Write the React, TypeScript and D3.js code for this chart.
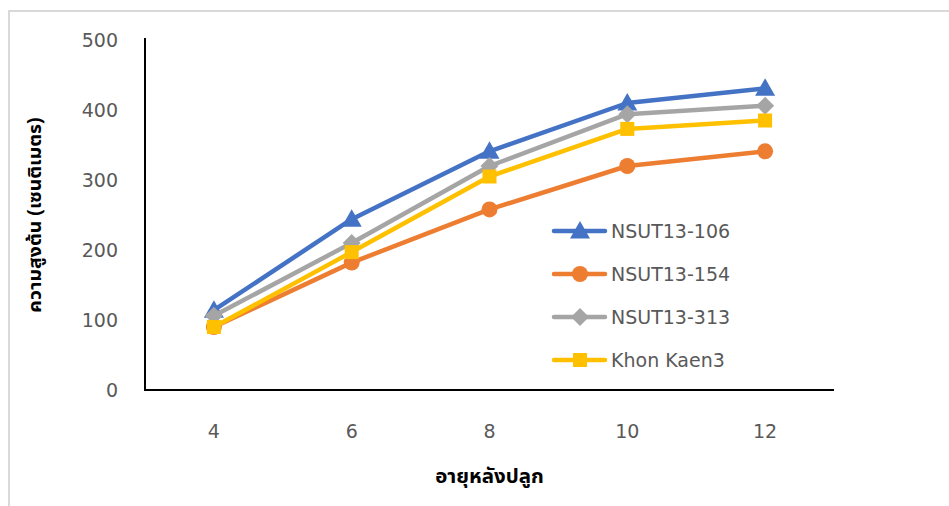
import React from "react";
import * as d3 from "d3";

const categories = [4, 6, 8, 10, 12];
const seriesNames = ["NSUT13-106", "NSUT13-154", "NSUT13-313", "Khon Kaen3"];
const nsut106 = [114, 244, 341, 410, 431];
const nsut154 = [90, 182, 258, 320, 341];
const nsut313 = [106, 210, 320, 394, 406];
const khonKaen3 = [90, 197, 305, 373, 385];
const yTicks = [0, 100, 200, 300, 400, 500];

const colors = ["#4472C4", "#ED7D31", "#A5A5A5", "#FFC000"];
const shapes = ["triangle", "circle", "diamond", "square"];

function Marker({ shape, x, y, color }: { shape: string; x: number; y: number; color: string }) {
  if (shape === "triangle") {
    const s = 10;
    return <path d={`M${x},${y - s} L${x + s},${y + s * 0.75} L${x - s},${y + s * 0.75} Z`} fill={color} />;
  }
  if (shape === "circle") return <circle cx={x} cy={y} r={8} fill={color} />;
  if (shape === "diamond") {
    const s = 9;
    return <path d={`M${x},${y - s} L${x + s},${y} L${x},${y + s} L${x - s},${y} Z`} fill={color} />;
  }
  return <rect x={x - 7} y={y - 7} width={14} height={14} fill={color} />;
}

export default function App() {
  const W = 949, H = 506;
  const left = 145, right = 834, top = 40, bottom = 390;
  const x = d3.scalePoint<number>().domain(categories).range([left, right]).padding(0.5);
  const y = d3.scaleLinear().domain([0, 500]).range([bottom, top]);
  const data = [nsut106, nsut154, nsut313, khonKaen3];
  const line = d3.line<number>().x((_, i) => x(categories[i])!).y((v) => y(v));
  const font = "'DejaVu Sans', Tahoma, sans-serif";
  const thaiFont = "'Noto Sans Thai UI', 'Noto Sans Thai', 'DejaVu Sans', Tahoma, sans-serif";
  const legendY = [231, 274, 317, 360];

  return (
    <svg width={W} height={H} style={{ position: "absolute", left: 0, top: 0, background: "#fff" }}>
      <path d={`M9,${H} L9,11 L${W},11`} fill="none" stroke="#d9d9d9" strokeWidth={2} />
      {yTicks.map((t) => (
        <text key={t} x={118} y={y(t)} textAnchor="end" dominantBaseline="central" fontFamily={font} fontSize={19} fill="#595959">
          {t}
        </text>
      ))}
      {categories.map((c) => (
        <text key={c} x={x(c)} y={431} textAnchor="middle" dominantBaseline="central" fontFamily={font} fontSize={19} fill="#595959">
          {c}
        </text>
      ))}
      <path d={`M${left},${top - 2} L${left},${bottom} L${right},${bottom}`} fill="none" stroke="#000" strokeWidth={2} />
      {data.map((vals, si) => (
        <g key={si}>
          <path d={line(vals) || ""} fill="none" stroke={colors[si]} strokeWidth={4.5} strokeLinejoin="round" strokeLinecap="round" />
          {vals.map((v, i) => (
            <Marker key={i} shape={shapes[si]} x={x(categories[i])!} y={y(v)} color={colors[si]} />
          ))}
        </g>
      ))}
      {seriesNames.map((n, i) => (
        <g key={n}>
          <line x1={554} x2={605} y1={legendY[i]} y2={legendY[i]} stroke={colors[i]} strokeWidth={4.5} strokeLinecap="round" />
          <Marker shape={shapes[i]} x={580} y={legendY[i]} color={colors[i]} />
          <text x={611} y={legendY[i]} dominantBaseline="central" fontFamily={font} fontSize={19} fill="#595959">
            {n}
          </text>
        </g>
      ))}
      <text
        transform={`translate(33,${(top + bottom) / 2}) rotate(-90)`}
        textAnchor="middle"
        dominantBaseline="central"
        fontFamily={thaiFont}
        fontWeight="bold"
        fontSize={19.5}
        fill="#000"
      >
        ความสูงต้น (เซนติเมตร)
      </text>
      <text x={(left + right) / 2} y={475} textAnchor="middle" dominantBaseline="central" fontFamily={thaiFont} fontWeight="bold" fontSize={20.5} fill="#000">
        อายุหลังปลูก
      </text>
    </svg>
  );
}
